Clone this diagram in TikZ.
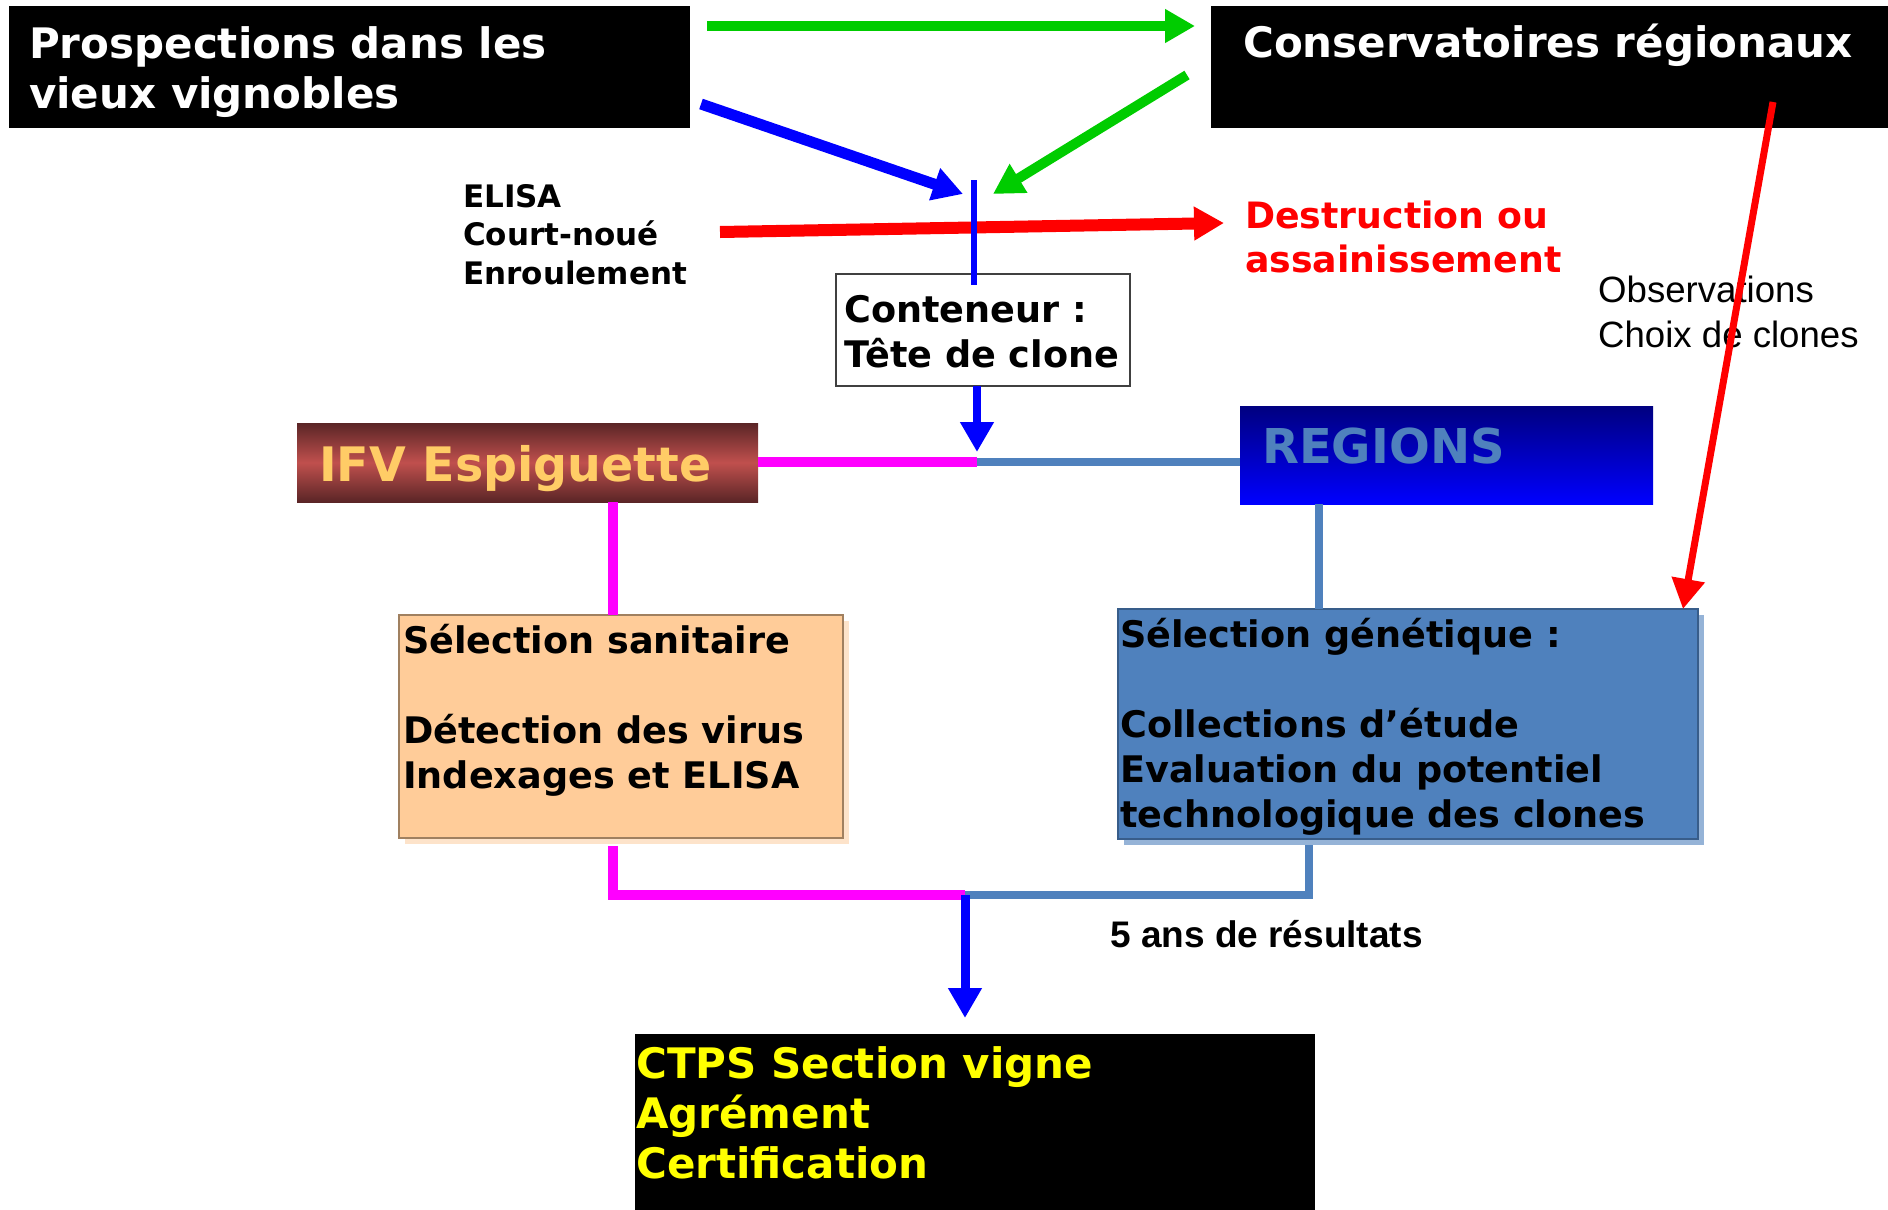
\documentclass[tikz,border=0pt]{standalone}
\usepackage{fontspec}
\setmainfont{DejaVu Sans}
\newfontfamily\arialfont{Liberation Sans}
\usetikzlibrary{arrows.meta,shadows}

\definecolor{vert}{HTML}{00CC00}
\definecolor{bleu}{HTML}{0000FF}
\definecolor{rouge}{HTML}{FF0000}
\definecolor{rose}{HTML}{FF00FF}
\definecolor{acier}{HTML}{4F81BD}
\definecolor{acierbord}{HTML}{385D8A}
\definecolor{acierombre}{HTML}{95B3D7}
\definecolor{peche}{HTML}{FFCC99}
\definecolor{pechebord}{HTML}{A08060}
\definecolor{pecheombre}{HTML}{FDE3CA}
\definecolor{ifvsombre}{HTML}{5A2526}
\definecolor{ifvclair}{HTML}{C0504D}
\definecolor{ifvtexte}{HTML}{FFCC66}
\definecolor{marine}{HTML}{000080}
\definecolor{jaune}{HTML}{FFFF00}

\tikzset{
  box/.style={anchor=north west, inner sep=0pt, outer sep=0pt},
  txt/.style={anchor=base west, inner sep=0pt, align=left},
  grand/.style={font=\fontsize{42}{50}\selectfont\bfseries},
  moyen/.style={font=\fontsize{36.6}{45}\selectfont\bfseries},
  tete/.style={-{Triangle[length=30pt,width=32pt]}},
}

\begin{document}
\begin{tikzpicture}[x=1pt,y=-1pt]
\useasboundingbox (0,0) rectangle (1888,1210);

% boites
\node[box, fill=black, minimum width=681pt, minimum height=122pt] (prosp) at (9,6) {};
\node[box, fill=black, minimum width=677pt, minimum height=122pt] (conserv) at (1211,6) {};
\node[box, fill=white, draw=black!75, line width=2pt, minimum width=294pt, minimum height=112pt] (cont) at (836,274) {};
\node[box, top color=ifvsombre, bottom color=ifvsombre, middle color=ifvclair, minimum width=461pt, minimum height=79pt] (ifv) at (297,423) {};
\node[box, top color=marine, bottom color=bleu, minimum width=413pt, minimum height=98pt] (regions) at (1240,406) {};
\node[box, fill=peche, draw=pechebord, line width=2pt, minimum width=444pt, minimum height=223pt,
  drop shadow={shadow xshift=6pt, shadow yshift=-6pt, fill=pecheombre, opacity=1}] (sani) at (399,615) {};
\node[box, fill=acier, draw=acierbord, line width=2pt, minimum width=580pt, minimum height=230pt,
  drop shadow={shadow xshift=6pt, shadow yshift=-6pt, fill=acierombre, opacity=1}] (gen) at (1118,609) {};
\node[box, fill=black, minimum width=680pt, minimum height=176pt] (ctps) at (635,1034) {};

% textes (base de la derniere ligne)
\node[txt, grand, text=white] (tprosp) at (29,108) {Prospections dans les\\vieux vignobles};
\node[txt, grand, text=white] (tconserv) at (1243,57) {Conservatoires régionaux};
\node[txt, font=\fontsize{31}{38.5}\selectfont\bfseries] (elisa) at (463,284) {ELISA\\Court-noué\\Enroulement};
\node[txt, font=\fontsize{36.3}{44}\selectfont\bfseries, text=rouge] (destr) at (1245,272) {Destruction ou\\assainissement};
\node[txt, moyen] (tcont) at (844,367) {Conteneur :\\Tête de clone};
\node[txt, font=\arialfont\fontsize{36.6}{45}\selectfont] (obs) at (1598,347) {Observations\\Choix de clones};
\node[txt, font=\fontsize{47.5}{56}\selectfont\bfseries, text=ifvtexte] (tifv) at (319,481) {IFV Espiguette};
\node[txt, font=\fontsize{48}{56}\selectfont\bfseries, text=acier] (tregions) at (1262,463) {REGIONS};
\node[txt, moyen] (tsani) at (403,788) {Sélection sanitaire\\[45pt]Détection des virus\\Indexages et ELISA};
\node[txt, moyen] (tgen) at (1120,827) {Sélection génétique :\\[45pt]Collections d’étude\\Evaluation du potentiel\\technologique des clones};
\node[txt, font=\arialfont\fontsize{37}{45}\selectfont\bfseries] (ans) at (1110,947) {5 ans de résultats};
\node[txt, grand, text=jaune] (tctps) at (636,1178) {CTPS Section vigne\\Agrément\\Certification};

% points libres
\coordinate (g1) at (707,26);
\coordinate (g2) at (1187,75);
\coordinate (g3) at (993,194);
\coordinate (b1) at (701,104);
\coordinate (b2) at (963,194);
\coordinate (r1) at (720,232);
\coordinate (r2) at (1224,223);
\coordinate (hub) at (974,180);
\coordinate (mid) at (977,462);
\coordinate (bas) at (965,895);
\coordinate (s1) at (613,0);
\coordinate (s2) at (1309,0);
\coordinate (s3) at (1319,0);
\coordinate (c1) at (1773,102);
\coordinate (c2) at (1683,609);

% fleches du haut
\draw[vert, line width=10pt, tete, shorten >=16pt] (g1) -- (g1 -| conserv.west);
\draw[vert, line width=10pt, tete] (g2) -- (g3);
\draw[bleu, line width=11pt, tete] (b1) -- (b2);
\draw[rouge, line width=12pt, tete] (r1) -- (r2);
\draw[bleu, line width=6pt] (hub) -- ([yshift=-11pt]cont.north -| hub);
\draw[bleu, line width=8pt, tete, shorten >=10pt] (cont.south -| mid) -- (mid);
\draw[rouge, line width=7pt, tete] (c1) -- (c2);

% branches
\draw[rose, line width=10pt] (ifv.east |- mid) -- (mid);
\draw[acier, line width=8pt] (mid) -- (regions.west |- mid);
\draw[rose, line width=10pt] (ifv.south -| s1) -- (sani.north -| s1);
\draw[acier, line width=8pt] (regions.south -| s3) -- (gen.north -| s3);
\draw[rose, line width=10pt] ([yshift=-8pt]sani.south -| s1) -- (s1 |- bas) -- (bas);
\draw[acier, line width=8pt] ([yshift=-6pt]gen.south -| s2) -- (s2 |- bas) -- (bas);
\draw[bleu, line width=9pt, tete, shorten >=16pt] (bas) -- (ctps.north -| bas);

\end{tikzpicture}
\end{document}
